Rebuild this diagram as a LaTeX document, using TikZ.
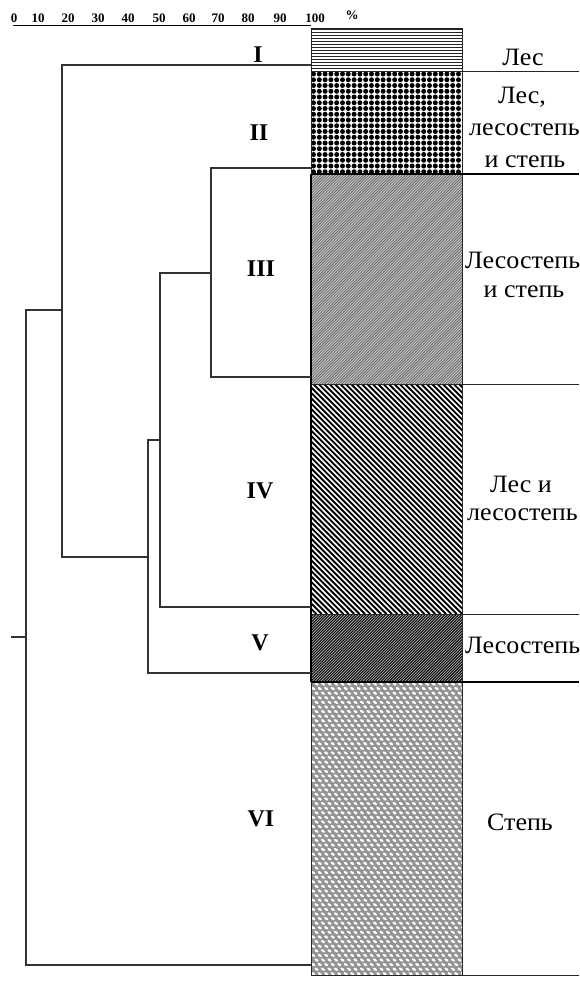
\documentclass[tikz,border=0pt]{standalone}
\usepackage{fontspec}
\setmainfont{Liberation Serif}
\newfontfamily\zonefont[FakeStretch=1.04]{Liberation Serif}
\begin{document}
\begin{tikzpicture}[x=1pt,y=-1pt]
\tikzset{
  dend/.style={line width=1.15pt, draw=black!80},
  rowline/.style={line width=0.8pt, draw=black!85},
  thickrow/.style={line width=1.8pt, draw=black},
  roman/.style={font=\fontsize{24}{26}\selectfont\bfseries, anchor=base, inner sep=0pt},
  zone/.style={font=\zonefont\fontsize{25}{28}\selectfont, anchor=base, inner sep=0pt},
  zonew/.style={font=\zonefont\fontsize{25}{28}\selectfont, anchor=base west, inner sep=0pt},
  scalenum/.style={font=\fontsize{13}{14}\selectfont\bfseries, anchor=base, inner sep=0pt},
}
\clip (0,0) rectangle (579,989);
\fill[white] (0,0) rectangle (579,989);

% ---- scale ----
\foreach \v/\x [count=\i from 0] in {0/14,10/38,20/68,30/98,40/128,50/159,60/189,70/218,80/248,90/280,100/315}
  \node[scalenum] (s\i) at (\x,22) {\v};
\node[scalenum] (pct) at (352,19) {\%};
\draw[line width=0.8pt] (13,25) -- (311,25);

% ---- bar patterns ----
% I: horizontal lines
\begin{scope}
\clip (311,28) rectangle (462,71);
\foreach \k in {0,...,14} \draw[line width=0.9pt, black!85] (311,29.5+3*\k) -- (462,29.5+3*\k);
\end{scope}
% II: dots
\begin{scope}
\clip (311,71) rectangle (462,174);
\foreach \i in {0,...,26} \foreach \j in {0,...,18}
  \fill (313.5+5.8*\i, 74+5.75*\j) circle (2.5);
\end{scope}
% III: fine diagonal
\begin{scope}
\clip (311,174) rectangle (462,384);
\fill[gray!40] (311,174) rectangle (462,384);
\foreach \k in {0,...,130} \draw[line width=0.8pt, black!60] (101+2.8*\k,384) -- ++(210,-210);
\end{scope}
% IV: bold diagonal
\begin{scope}
\clip (311,384) rectangle (462,614);
\foreach \k in {0,...,72} \draw[line width=1.9pt, black] (81+5.4*\k,384) -- ++(230,230);
\end{scope}
% V: dark fine diagonal
\begin{scope}
\clip (311,614) rectangle (462,682);
\fill[gray!65] (311,614) rectangle (462,682);
\foreach \k in {0,...,80} \draw[line width=0.9pt, black] (243+2.8*\k,682) -- ++(68,-68);
\end{scope}
% VI: scales
\begin{scope}
\clip (311,682) rectangle (462,975);
\fill[gray!85] (311,682) rectangle (462,975);
\foreach \j in {0,...,64} {
  \pgfmathsetmacro{\off}{mod(\j,2)*3.25}
  \foreach \i in {0,...,24}
    \fill[white, rotate around={-35:(310+\off+6.5*\i, 684+4.6*\j)}] (310+\off+6.5*\i, 684+4.6*\j) ellipse (2.2 and 1.25);
}
\end{scope}

% ---- bar and row frames ----
\draw[rowline] (311,28) rectangle (462,975);
\draw[line width=2.2pt] (311,174) -- (311,682);
\draw[rowline] (311,71) -- (579,71);
\draw[thickrow] (311,174) -- (579,174);
\draw[rowline] (311,384) -- (579,384);
\draw[rowline] (311,614) -- (579,614);
\draw[thickrow] (311,682) -- (579,682);
\draw[rowline] (311,975) -- (579,975);

% ---- dendrogram ----
\coordinate (L1) at (311,65);
\coordinate (L2) at (311,168);
\coordinate (L3) at (311,377);
\coordinate (L4) at (311,607);
\coordinate (L5) at (311,673);
\coordinate (L6) at (311,965);
\coordinate (n23) at (211,273);
\coordinate (n234) at (160,440);
\coordinate (n2345) at (148,557);
\coordinate (n1) at (62,310);
\coordinate (root) at (26,637);
\coordinate (stub) at (11,637);
\draw[dend] (L2) -| (n23) |- (L3);
\draw[dend] (n23) -| (n234) |- (L4);
\draw[dend] (n234) -| (n2345) |- (L5);
\draw[dend] (L1) -| (n1) |- (n2345);
\draw[dend] (n1) -| (root) |- (L6);
\draw[dend] (root) -- (stub);

% ---- cluster numerals ----
\node[roman] (r1) at (258,62) {I};
\node[roman] (r2) at (259,140) {II};
\node[roman] (r3) at (261,276) {III};
\node[roman] (r4) at (260,498) {IV};
\node[roman] (r5) at (260,650) {V};
\node[roman] (r6) at (261,826) {VI};

% ---- zone labels ----
\node[zone] (z1) at (523,65) {Лес};
\node[zone] (z2a) at (522,103) {Лес,};
\node[zonew] (z2b) at (469,135) {лесостепь};
\node[zone] (z2c) at (525,167) {и степь};
\node[zonew] (z3a) at (465,268) {Лесостепь};
\node[zone] (z3b) at (524,297) {и степь};
\node[zone] (z4a) at (521,492) {Лес и};
\node[zonew] (z4b) at (467,520) {лесостепь};
\node[zonew] (z5) at (465,653) {Лесостепь};
\node[zone] (z6) at (520,830) {Степь};
\end{tikzpicture}
\end{document}
